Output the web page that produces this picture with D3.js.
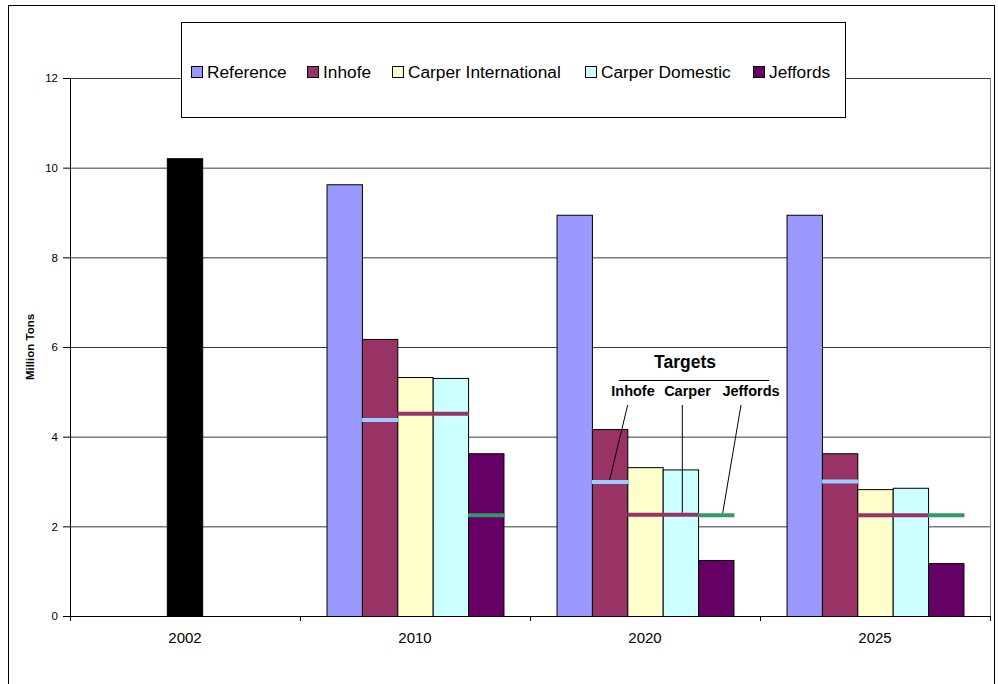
<!DOCTYPE html>
<html>
<head>
<meta charset="utf-8">
<script src="https://cdn.jsdelivr.net/npm/d3@7"></script>
<style>
  body { margin: 0; background: #fff; }
  text { font-family: Arial, "Liberation Sans", sans-serif; }
</style>
</head>
<body>
<svg id="chart" width="998" height="684"></svg>
<script>
// ---------- data ----------
const years = ["2002", "2010", "2020", "2025"];
const seriesNames = ["Reference", "Inhofe", "Carper International", "Carper Domestic", "Jeffords"];
const actual = [10.2, null, null, null];
const reference = [null, 9.63, 8.95, 8.95];
const inhofe = [null, 6.18, 4.17, 3.63];
const carperIntl = [null, 5.33, 3.32, 2.83];
const carperDom = [null, 5.31, 3.27, 2.86];
const jeffords = [null, 3.63, 1.25, 1.18];
const targetInhofe = [null, 4.37, 2.99, 3.0];
const targetCarper = [null, 4.51, 2.26, 2.25];
const targetJeffords = [null, 2.25, 2.25, 2.25];
const yTicks = [0, 2, 4, 6, 8, 10, 12];
const targetLabels = ["Inhofe", "Carper", "Jeffords"];

// ---------- styles ----------
const seriesValues = [reference, inhofe, carperIntl, carperDom, jeffords];
const colors = ["#9999FF", "#993366", "#FFFFCC", "#CCFFFF", "#660066"];

const svg = d3.select("#chart");

// outer chart frame
svg.append("rect").attr("x", 8.5).attr("y", 5.5).attr("width", 986).attr("height", 700)
  .attr("fill", "#fff").attr("stroke", "#000").attr("stroke-width", 1);

const plot = { left: 70, right: 990, top: 78, bottom: 616 };

const x = d3.scaleBand().domain(years).range([plot.left, plot.right]).paddingInner(0).paddingOuter(0);
const inner = d3.scaleBand().domain(seriesNames).range([0, x.bandwidth()]).paddingInner(0).paddingOuter(0.75);
const y = d3.scaleLinear().domain([0, 12]).range([plot.bottom, plot.top]);

// gridlines
svg.append("g").attr("transform", `translate(${plot.left},0)`)
  .call(d3.axisLeft(y).tickValues(yTicks.filter(v => v > 0)).tickSize(-(plot.right - plot.left)).tickFormat(""))
  .call(g => g.select(".domain").remove())
  .call(g => g.selectAll("line").attr("stroke", "#3a3a3a").attr("stroke-width", 1));

// plot area right border
svg.append("line").attr("x1", plot.right + 0.5).attr("x2", plot.right + 0.5)
  .attr("y1", plot.top).attr("y2", plot.bottom).attr("stroke", "#808080");

// 2002 actual bar
svg.append("g").selectAll("rect").data(years.map((yr, i) => ({ yr, v: actual[i] })).filter(d => d.v != null))
  .join("rect")
  .attr("x", d => x(d.yr) + (x.bandwidth() - inner.bandwidth()) / 2)
  .attr("width", inner.bandwidth())
  .attr("y", d => y(d.v)).attr("height", d => y(0) - y(d.v))
  .attr("fill", "#000").attr("stroke", "#000");

// series bars
seriesNames.forEach((s, si) => {
  const data = years.map((yr, i) => ({ yr, v: seriesValues[si][i] })).filter(d => d.v != null);
  svg.append("g").selectAll("rect").data(data).join("rect")
    .attr("x", d => x(d.yr) + inner(s) + 0.5)
    .attr("width", inner.bandwidth())
    .attr("y", d => y(d.v) + 0.5).attr("height", d => y(0) - y(d.v))
    .attr("fill", colors[si]).attr("stroke", "#000").attr("stroke-width", 1);
});

// target lines
const targets = [
  { vals: targetInhofe, from: "Inhofe", to: "Inhofe", color: "#99CCFF" },
  { vals: targetCarper, from: "Carper International", to: "Carper Domestic", color: "#993366" },
  { vals: targetJeffords, from: "Jeffords", to: "Jeffords", color: "#339966" }
];
targets.forEach(t => {
  const data = years.map((yr, i) => ({ yr, v: t.vals[i] })).filter(d => d.v != null);
  svg.append("g").selectAll("line").data(data).join("line")
    .attr("x1", d => x(d.yr) + inner(t.from))
    .attr("x2", d => x(d.yr) + inner(t.to) + inner.bandwidth() + 1)
    .attr("y1", d => y(d.v)).attr("y2", d => y(d.v))
    .attr("stroke", t.color).attr("stroke-width", 4);
});

// y axis
svg.append("g").attr("transform", `translate(${plot.left},0)`)
  .call(d3.axisLeft(y).tickValues(yTicks).tickSize(7).tickPadding(5))
  .call(g => g.select(".domain").attr("stroke", "#000"))
  .call(g => g.selectAll("line").attr("stroke", "#000"))
  .call(g => g.selectAll("text").attr("font-size", 11.5).attr("fill", "#000")
    .attr("font-family", "Arial, 'Liberation Sans', sans-serif"));

// x axis: labels
svg.append("g").attr("transform", `translate(0,${plot.bottom})`)
  .call(d3.axisBottom(x).tickSize(0).tickPadding(16))
  .call(g => g.select(".domain").remove())
  .call(g => g.selectAll("text").attr("font-size", 15).attr("fill", "#000")
    .attr("font-family", "Arial, 'Liberation Sans', sans-serif"));

// x axis: boundary ticks and line
const xb = d3.scaleLinear().domain([0, years.length]).range([plot.left, plot.right]);
svg.append("g").attr("transform", `translate(0,${plot.bottom})`)
  .call(d3.axisBottom(xb).tickValues(d3.range(years.length + 1)).tickSize(5).tickFormat("").tickSizeOuter(0))
  .call(g => g.select(".domain").attr("stroke", "#000"))
  .call(g => g.selectAll("line").attr("stroke", "#000"));

// y axis title
svg.append("text")
  .attr("transform", `translate(34,${(plot.top + plot.bottom) / 2}) rotate(-90)`)
  .attr("text-anchor", "middle").attr("font-size", 11.5).attr("font-weight", "bold")
  .text("Million Tons");

// legend
const legend = svg.append("g");
legend.append("rect").attr("x", 181.5).attr("y", 22.5).attr("width", 664).attr("height", 95)
  .attr("fill", "#fff").attr("stroke", "#000");
const legendX = [191, 307, 392, 585, 753];
seriesNames.forEach((s, i) => {
  const g = legend.append("g").attr("transform", `translate(${legendX[i]},0)`);
  g.append("rect").attr("x", 0.5).attr("y", 66.5).attr("width", 11).attr("height", 11)
    .attr("fill", colors[i]).attr("stroke", "#000");
  g.append("text").attr("x", 16).attr("y", 78).attr("font-size", 17.3).text(s);
});

// targets annotation over the 2020 group
const gx = x("2020");
const ann = svg.append("g");
ann.append("text").attr("x", gx + 155).attr("y", 368).attr("text-anchor", "middle")
  .attr("font-size", 17.5).attr("font-weight", "bold").text("Targets");
ann.append("line").attr("x1", gx + 89).attr("x2", gx + 239).attr("y1", 380.5).attr("y2", 380.5)
  .attr("stroke", "#000");
const labelX = [gx + 103, gx + 157.5, gx + 221];
targetLabels.forEach((t, i) => {
  ann.append("text").attr("x", labelX[i]).attr("y", 396).attr("text-anchor", "middle")
    .attr("font-size", 14.5).attr("font-weight", "bold").text(t);
});
const ix = years.indexOf("2020");
const leaders = [
  { x1: gx + 97.7, x2: gx + inner("Inhofe") + inner.bandwidth() / 2, v: targetInhofe[ix] },
  { x1: gx + 152.3, x2: gx + 152.3, v: targetCarper[ix] },
  { x1: gx + 211, x2: gx + 192.7, v: targetJeffords[ix] }
];
ann.selectAll("line.leader").data(leaders).join("line").attr("class", "leader")
  .attr("x1", d => d.x1).attr("y1", 405)
  .attr("x2", d => d.x2).attr("y2", d => y(d.v) - 2)
  .attr("stroke", "#000").attr("stroke-width", 1);
</script>
</body>
</html>
